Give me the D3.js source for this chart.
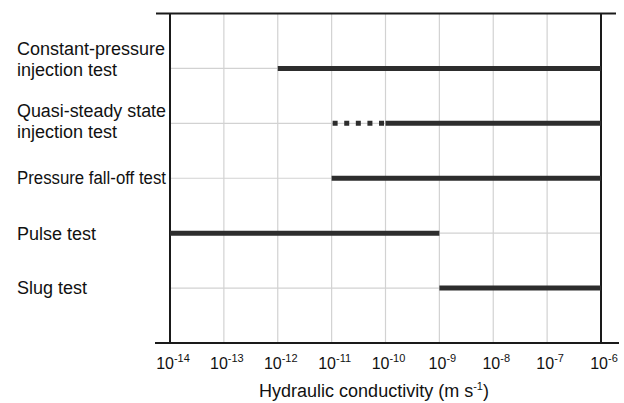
<!doctype html>
<html lang="en">
<head>
  <meta charset="utf-8">
  <title>Hydraulic conductivity ranges of test methods</title>
  <style>
    body { margin: 0; background: #fff; }
    text { font-family: "Liberation Sans", Arial, Helvetica, sans-serif; fill: #111; }
    .grid { stroke: #d2d2d2; stroke-width: 1.2; }
    .frame { stroke: #1a1a1a; stroke-width: 2; }
    .range { stroke: #2d2d2d; stroke-width: 5; }
  </style>
</head>
<body>
  <svg width="624" height="403"></svg>
  <script src="https://d3js.org/d3.v7.min.js"></script>
  <script>
    // test methods, top to bottom (label split into lines)
    var testLabels = [
      ["Constant-pressure", "injection test"],
      ["Quasi-steady state", "injection test"],
      ["Pressure fall-off test"],
      ["Pulse test"],
      ["Slug test"]
    ];
    // applicable K range, m/s
    var lowK = [1e-12, 1e-10, 1e-11, 1e-14, 1e-9];
    var highK = [1e-6, 1e-6, 1e-6, 1e-9, 1e-6];
    // uncertain extension (dotted) for quasi-steady state test
    var dottedLow = [null, 1e-11, null, null, null];
    var dottedHigh = [null, 1e-10, null, null, null];

    var tickExponents = [-14, -13, -12, -11, -10, -9, -8, -7, -6];

    var svg = d3.select("svg");

    var x = d3.scaleLog().domain([1e-14, 1e-6]).range([170, 601]);
    var y = d3.scaleLinear().domain([0, 6]).range([13.5, 343]);

    // first-line baseline offset from the row line
    var labelShift = [-13, -6, 6, 7, 6];
    var maxLabelWidth = 149;

    // vertical grid
    svg.append("g").selectAll("line")
      .data(tickExponents)
      .enter().append("line")
      .attr("class", "grid")
      .attr("x1", function (d) { return x(Math.pow(10, d)); })
      .attr("x2", function (d) { return x(Math.pow(10, d)); })
      .attr("y1", y(0)).attr("y2", y(6));

    // horizontal row lines
    svg.append("g").selectAll("line")
      .data(testLabels)
      .enter().append("line")
      .attr("class", "grid")
      .attr("x1", x(1e-14)).attr("x2", x(1e-6))
      .attr("y1", function (d, i) { return y(i + 1); })
      .attr("y2", function (d, i) { return y(i + 1); });

    // frame
    var frame = svg.append("g");
    frame.append("line").attr("class", "frame")
      .attr("x1", x(1e-14) - 14).attr("x2", x(1e-6) + 15)
      .attr("y1", y(0)).attr("y2", y(0));
    frame.append("line").attr("class", "frame")
      .attr("x1", x(1e-14) - 15).attr("x2", x(1e-6) + 18)
      .attr("y1", y(6)).attr("y2", y(6));
    frame.append("line").attr("class", "frame")
      .attr("x1", x(1e-14)).attr("x2", x(1e-14))
      .attr("y1", y(0)).attr("y2", y(6));
    frame.append("line").attr("class", "frame")
      .attr("x1", x(1e-6)).attr("x2", x(1e-6))
      .attr("y1", y(0)).attr("y2", y(6));

    // ranges
    svg.append("g").selectAll("line")
      .data(lowK)
      .enter().append("line")
      .attr("class", "range")
      .attr("x1", function (d) { return x(d); })
      .attr("x2", function (d, i) { return x(highK[i]); })
      .attr("y1", function (d, i) { return y(i + 1); })
      .attr("y2", function (d, i) { return y(i + 1); });

    svg.append("g").selectAll("line")
      .data(dottedLow.map(function (d, i) { return { lo: d, hi: dottedHigh[i], row: i + 1 }; })
        .filter(function (d) { return d.lo !== null; }))
      .enter().append("line")
      .attr("class", "range")
      .attr("stroke-dasharray", "5,6.6")
      .attr("x1", function (d) { return x(d.lo) + 1; })
      .attr("x2", function (d) { return x(d.hi) - 1; })
      .attr("y1", function (d) { return y(d.row); })
      .attr("y2", function (d) { return y(d.row); });

    // category labels
    var lab = svg.append("g").selectAll("text")
      .data(testLabels)
      .enter().append("text")
      .attr("x", 17)
      .attr("y", function (d, i) { return y(i + 1) + labelShift[i]; })
      .style("font-size", "18px");
    lab.selectAll("tspan")
      .data(function (d) { return d; })
      .enter().append("tspan")
      .attr("x", 17)
      .attr("dy", function (d, j) { return j ? 21 : 0; })
      .text(function (d) { return d; })
      .each(function () {
        // keep long lines clear of the axis
        if (this.getComputedTextLength() > maxLabelWidth) {
          d3.select(this).attr("textLength", maxLabelWidth)
            .attr("lengthAdjust", "spacingAndGlyphs");
        }
      });

    // tick labels
    var tk = svg.append("g").selectAll("text")
      .data(tickExponents)
      .enter().append("text")
      .attr("x", function (d) { return x(Math.pow(10, d)) + 3; })
      .attr("y", 369)
      .attr("text-anchor", "middle")
      .style("font-size", "16px");
    tk.append("tspan").text("10");
    tk.append("tspan").attr("dy", -7).style("font-size", "11px")
      .text(function (d) { return String(d); });

    // axis title
    var title = svg.append("text")
      .attr("x", 374).attr("y", 397)
      .attr("text-anchor", "middle")
      .style("font-size", "18px");
    title.append("tspan").text("Hydraulic conductivity (m s");
    title.append("tspan").attr("dy", -7).style("font-size", "11px").text("-1");
    title.append("tspan").attr("dy", 7).text(")");
  </script>
</body>
</html>
